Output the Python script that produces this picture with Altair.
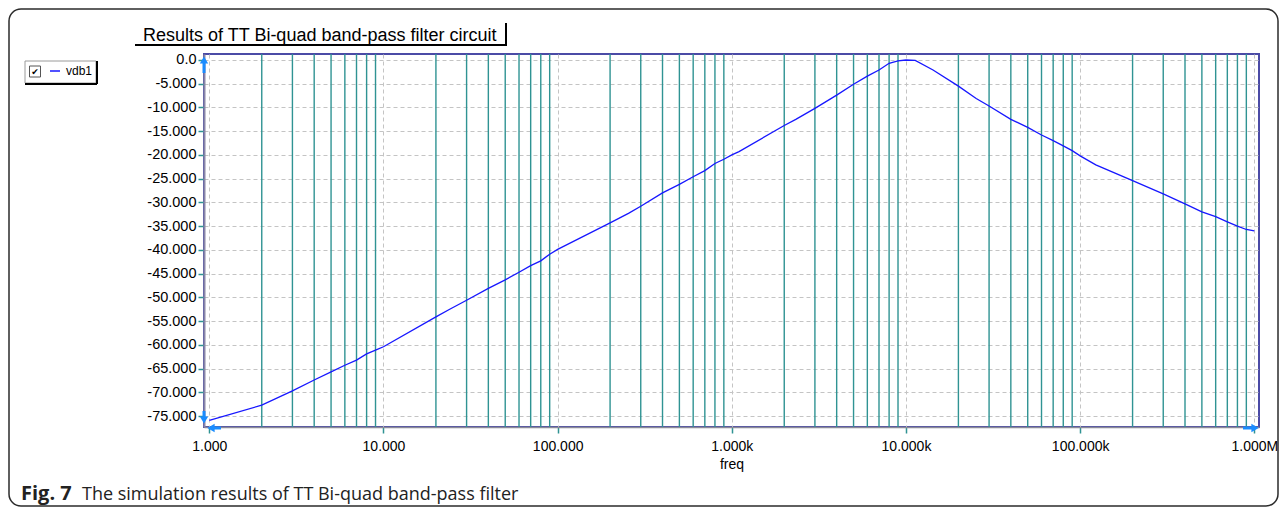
import altair as alt
import pandas as pd

# ---- data ----
freq = [1, 2, 3, 4, 5, 6, 7, 8, 9, 10, 20, 24, 30, 40, 50, 60, 70, 80, 90, 100,
        200, 255, 300, 400, 500, 600, 700, 800, 900, 1000, 1100, 2000, 2330, 3000,
        4000, 5000, 6000, 7000, 8000, 9000, 10000, 11300, 14300, 20000, 25300, 30000,
        40000, 50000, 60000, 70000, 80000, 90000, 100000, 123000, 200000, 300000,
        400000, 500000, 600000, 700000, 800000, 900000, 1000000]
vdb1 = [-75.9, -72.7, -69.7, -67.4, -65.7, -64.3, -63.2, -61.9, -61.1, -60.4,
        -54.1, -52.5, -50.6, -48.1, -46.3, -44.7, -43.3, -42.3, -40.9, -39.9,
        -34.3, -32.3, -30.8, -28.0, -26.2, -24.6, -23.3, -21.8, -20.9, -20.0,
        -19.3, -13.8, -12.5, -10.2, -7.4, -5.1, -3.4, -2.1, -0.7, -0.2,
        0.0, -0.1, -2.1, -5.5, -8.1, -9.7, -12.5, -14.2, -15.8, -17.0,
        -18.1, -19.1, -20.2, -22.1, -25.4, -28.2, -30.3, -32.0, -33.0, -34.1,
        -35.0, -35.7, -36.0]
series_name = ["vdb1"]

x_tick_values = [1, 10, 100, 1000, 10000, 100000, 1000000]
x_tick_labels = ["1.000", "10.000", "100.000", "1.000k", "10.000k", "100.000k", "1.000M"]
y_tick_values = [0, -5, -10, -15, -20, -25, -30, -35, -40, -45, -50, -55, -60, -65, -70, -75]
y_tick_labels = ["0.0", "-5.000", "-10.000", "-15.000", "-20.000", "-25.000", "-30.000",
                 "-35.000", "-40.000", "-45.000", "-50.000", "-55.000", "-60.000",
                 "-65.000", "-70.000", "-75.000"]
minor_multipliers = [2, 3, 4, 5, 6, 7, 8, 9]
decades = [1, 10, 100, 1000, 10000, 100000]

title_text = "Results of TT Bi-quad band-pass filter circuit"
caption_bold = "Fig. 7"
caption_text = "The simulation results of TT Bi-quad band-pass filter"

# ---- tables ----
curve = pd.DataFrame({"freq": freq, "vdb": vdb1, "series": series_name * len(freq)})
minor = pd.DataFrame({"freq": [m * d for d in decades for m in minor_multipliers]})
one = pd.DataFrame({"k": [0]})


def label_expr(values, labels):
    expr = "''"
    for v, l in reversed(list(zip(values, labels))):
        tol = 1e-6 * max(1, abs(v))
        expr = f"(abs(datum.value - ({v})) <= {tol}) ? '{l}' : ({expr})"
    return expr


W, H = 1055, 373
TEAL = "#2f9393"
ARROW = "#1a8cff"
LINE_BLUE = "#1717ff"
FONT = "Liberation Sans"

x_scale = alt.Scale(type="log", domain=[0.932, 1064000], nice=False)
y_scale = alt.Scale(domain=[-77.3, 1.26], nice=False, zero=False)

x_axis = alt.Axis(values=x_tick_values, labelExpr=label_expr(x_tick_values, x_tick_labels),
                  grid=True, gridColor="#c4c4c4", gridDash=[4, 3], gridWidth=1,
                  ticks=True, tickColor=TEAL, tickSize=6, tickWidth=1.5,
                  domainColor="#8a8a98", domainWidth=1.5,
                  labelFont=FONT, labelFontSize=14, labelColor="black", labelPadding=6,
                  labelFlush=False, labelOverlap=False,
                  title="freq", titleFont=FONT, titleFontSize=14, titleFontWeight="normal",
                  titleColor="black", titlePadding=4)
y_axis = alt.Axis(values=y_tick_values, labelExpr=label_expr(y_tick_values, y_tick_labels),
                  grid=True, gridColor="#c4c4c4", gridDash=[4, 3], gridWidth=1,
                  ticks=True, tickColor=TEAL, tickSize=6, tickWidth=1.5,
                  domainColor="#8a87a8", domainWidth=2,
                  labelFont=FONT, labelFontSize=14.5, labelColor="black", labelPadding=2,
                  labelOverlap=False, labelFlush=False, title=None)

minor_rules = alt.Chart(minor).mark_rule(color=TEAL, strokeWidth=1.4).encode(
    x=alt.X("freq:Q", scale=x_scale, axis=x_axis, title="freq")
)

line = alt.Chart(curve).mark_line(strokeWidth=1.3, interpolate="linear").encode(
    x=alt.X("freq:Q", scale=x_scale, axis=x_axis, title="freq"),
    y=alt.Y("vdb:Q", scale=y_scale, axis=y_axis),
    color=alt.Color("series:N",
                    scale=alt.Scale(domain=series_name, range=[LINE_BLUE]),
                    legend=alt.Legend(orient="none", legendX=-155, legendY=11, title=None,
                                      symbolType="stroke", symbolSize=100,
                                      symbolStrokeWidth=1.5, labelFont=FONT,
                                      labelFontSize=12, labelColor="black",
                                      labelOffset=5, padding=0)),
)


def base():
    return alt.Chart(one)


# outer rounded frame
frame = base().mark_rect(fillOpacity=0, stroke="#2b2b2b", strokeWidth=1.5, cornerRadius=12).encode(
    x=alt.value(-195), x2=alt.value(1074), y=alt.value(-45), y2=alt.value(452))

# title label with its box lines
title = base().mark_text(text=title_text, align="left", baseline="alphabetic",
                         font=FONT, fontSize=18, color="black").encode(
    x=alt.value(-61), y=alt.value(-13))
title_under = base().mark_rule(color="black", strokeWidth=2).encode(
    x=alt.value(-69), x2=alt.value(303), y=alt.value(-9))
title_right = base().mark_rule(color="black", strokeWidth=2).encode(
    x=alt.value(302), y=alt.value(-31), y2=alt.value(-9))

# legend box with checkbox
leg_box = base().mark_rect(fill="white", stroke="#9a9a9a", strokeWidth=1).encode(
    x=alt.value(-179), x2=alt.value(-108), y=alt.value(7), y2=alt.value(29))
leg_shadow_r = base().mark_rule(color="black", strokeWidth=2).encode(
    x=alt.value(-107), y=alt.value(7), y2=alt.value(30))
leg_shadow_b = base().mark_rule(color="black", strokeWidth=2).encode(
    x=alt.value(-179), x2=alt.value(-107), y=alt.value(30))
check_box = base().mark_rect(fill="white", stroke="#555555", strokeWidth=1).encode(
    x=alt.value(-174.5), x2=alt.value(-163.5), y=alt.value(12), y2=alt.value(23))
check_mark = base().mark_text(text="✔", align="center", baseline="middle",
                              font="DejaVu Sans", fontSize=9, color="black").encode(
    x=alt.value(-169), y=alt.value(17.5))


# blue axis arrows
def tri(shape, x, y, size=70):
    return base().mark_point(shape=shape, filled=True, size=size, color=ARROW, opacity=1).encode(
        x=alt.value(x), y=alt.value(y))


def shaft(x, x2, y, y2):
    enc = {"x": alt.value(x), "y": alt.value(y)}
    if x2 is not None:
        enc["x2"] = alt.value(x2)
    if y2 is not None:
        enc["y2"] = alt.value(y2)
    return base().mark_rule(color=ARROW, strokeWidth=3).encode(**enc)


arrows = [
    tri("triangle-up", 0, 6), shaft(0, None, 8, 19),
    tri("triangle-down", 0, 366), shaft(0, None, 357, 363),
    tri("triangle-left", 7, 374), shaft(9, 17, 374, None),
    tri("triangle-right", 1051, 374), shaft(1039, 1049, 374, None),
]

# caption
cap1 = base().mark_text(text=caption_bold, align="left", baseline="alphabetic",
                        font="Open Sans", fontSize=20, fontWeight="bold", color="#222222").encode(
    x=alt.value(-183), y=alt.value(446))
cap2 = base().mark_text(text=caption_text, align="left", baseline="alphabetic",
                        font="Open Sans", fontSize=18, color="#222222").encode(
    x=alt.value(-122), y=alt.value(446))

chart = alt.layer(
    frame, title, title_under, title_right,
    leg_box, leg_shadow_r, leg_shadow_b, check_box, check_mark,
    minor_rules, line, *arrows, cap1, cap2,
).properties(
    width=W, height=H,
    autosize=alt.AutoSizeParams(type="none"),
    padding={"left": 196, "top": 46, "right": 20, "bottom": 81},
    background="white",
).configure_view(
    stroke="#4b4ba6", strokeWidth=2
)

chart.save("out.html", embed_options={"renderer": "svg", "actions": False})
